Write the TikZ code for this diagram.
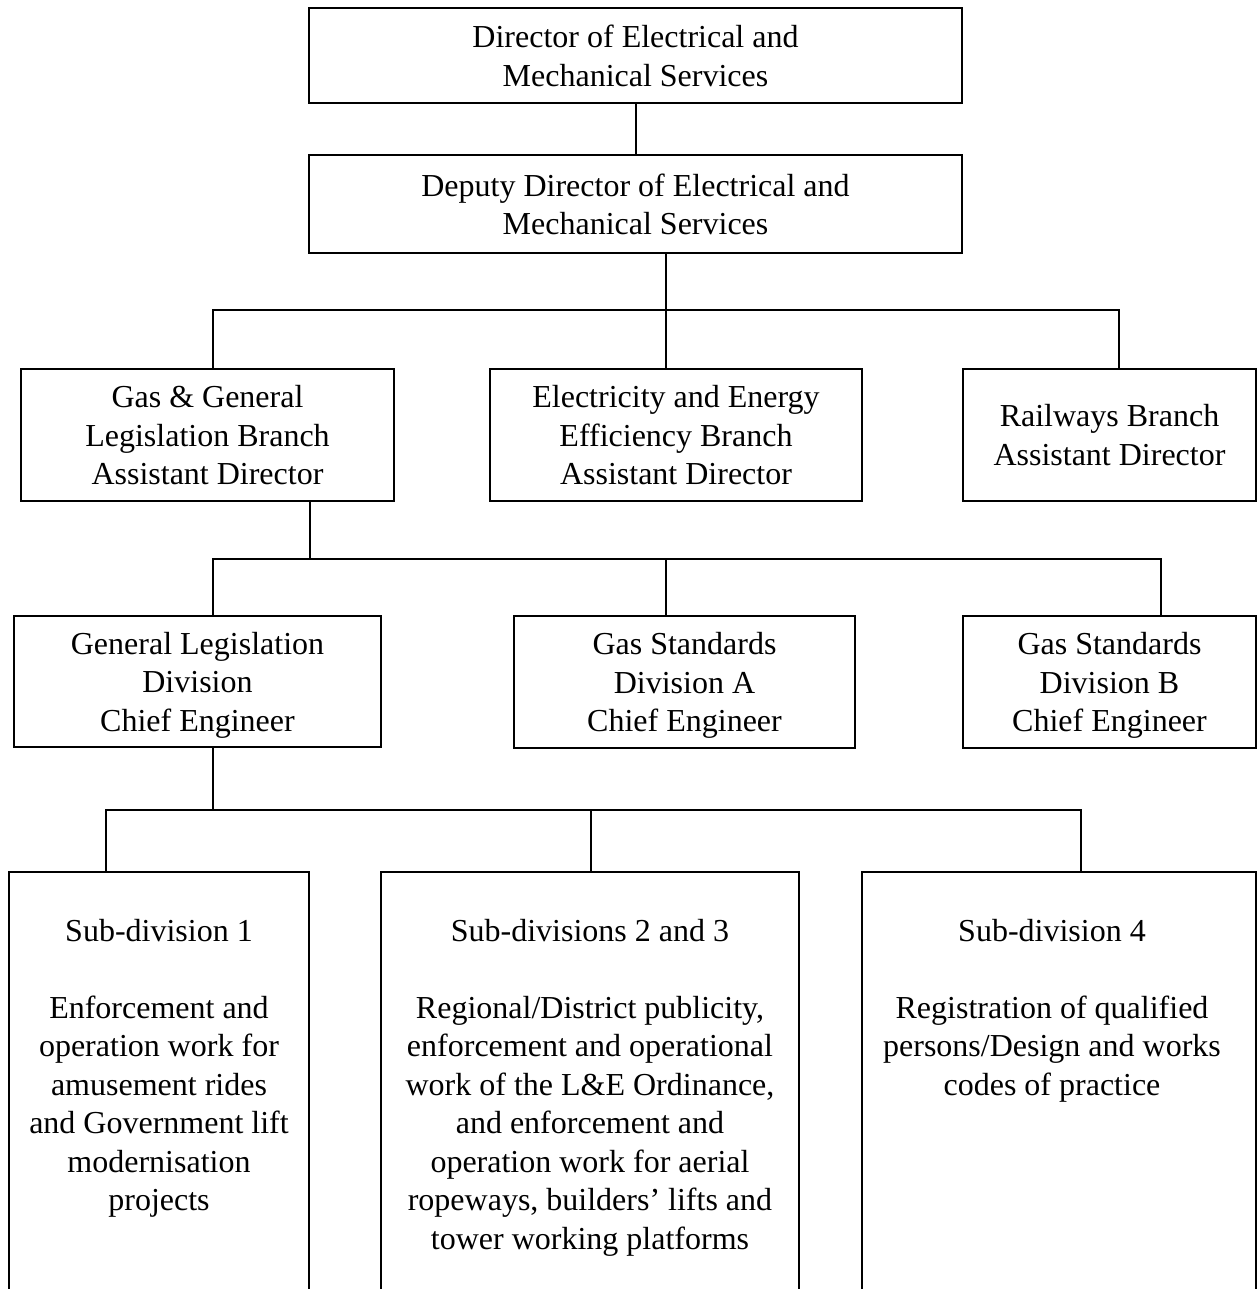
\documentclass[tikz,border=0pt]{standalone}
\usepackage{fontspec}
\setmainfont{Liberation Serif}
\begin{document}
\begin{tikzpicture}[x=1pt,y=-1pt,
  box/.style={draw, line width=2.2pt, inner sep=0pt, align=center, text depth=-6pt, font=\fontsize{32}{38.5}\selectfont},
  openbox/.style={draw, line width=2.2pt, inner sep=0pt},
  txt/.style={inner sep=0pt, align=center, anchor=north, font=\fontsize{32}{38.5}\selectfont},
  link/.style={line width=2pt}]
\useasboundingbox (0,0) rectangle (1258,1289);
\clip (0,0) rectangle (1258,1289);
\fill[white] (0,0) rectangle (1258,1289);

% level 1 and 2
\node[box, minimum width=653, minimum height=95] (dir) at (635.5,55.5) {Director of Electrical and\\Mechanical Services};
\node[box, minimum width=653, minimum height=98] (dep) at (635.5,204) {Deputy Director of Electrical and\\Mechanical Services};

% level 3
\node[box, minimum width=373, minimum height=132] (gg) at (207.5,435) {Gas \& General\\Legislation Branch\\Assistant Director};
\node[box, minimum width=372, minimum height=132] (ee) at (676,435) {Electricity and Energy\\Efficiency Branch\\Assistant Director};
\node[box, minimum width=293, minimum height=132] (rw) at (1109.5,435) {Railways Branch\\Assistant Director};

% level 4
\node[box, minimum width=367, minimum height=131] (gl) at (197.5,681.5) {General Legislation\\Division\\Chief Engineer};
\node[box, minimum width=341, minimum height=132] (gsa) at (684.5,682) {Gas Standards\\Division A\\Chief Engineer};
\node[box, minimum width=293, minimum height=132] (gsb) at (1109.5,682) {Gas Standards\\Division B\\Chief Engineer};

% level 5 (boxes run past the lower edge)
\node[openbox, minimum width=300, minimum height=440] (s1) at (159,1092) {};
\node[openbox, minimum width=418, minimum height=440] (s23) at (590,1092) {};
\node[openbox, minimum width=394, minimum height=440] (s4) at (1059,1092) {};
\node[txt] (s1t) at (159,919) {Sub-division 1\\[38.5pt]Enforcement and\\operation work for\\amusement rides\\and Government lift\\modernisation\\projects};
\node[txt] (s23t) at (590,919) {Sub-divisions 2 and 3\\[38.5pt]Regional/District publicity,\\enforcement and operational\\work of the L\&E Ordinance,\\and enforcement and\\operation work for aerial\\ropeways, builders’ lifts and\\tower working platforms};
\node[txt] (s4t) at (1052,919) {Sub-division 4\\[38.5pt]Registration of qualified\\persons/Design and works\\codes of practice};

% junction coordinates
\coordinate (j0) at (636,0);
\coordinate (j1) at (666,310);
\coordinate (j1l) at (213,310);
\coordinate (j1r) at (1119,310);
\coordinate (j2) at (310,559);
\coordinate (j2l) at (213,559);
\coordinate (j2m) at (666,559);
\coordinate (j2r) at (1161,559);
\coordinate (j3) at (213,810);
\coordinate (j3l) at (106,810);
\coordinate (j3m) at (591,810);
\coordinate (j3r) at (1081,810);

% connectors
\draw[link] (dir.south -| j0) -- (dep.north -| j0);
\draw[link] (dep.south -| j1) -- (ee.north -| j1);
\draw[link] (gg.north -| j1l) -- (j1l) -- (j1r) -- (rw.north -| j1r);

\draw[link] (gg.south -| j2) -- (j2);
\draw[link] (gl.north -| j2l) -- (j2l) -- (j2r) -- (gsb.north -| j2r);
\draw[link] (j2m) -- (gsa.north -| j2m);

\draw[link] (gl.south -| j3) -- (j3);
\draw[link] (s1.north -| j3l) -- (j3l) -- (j3r) -- (s4.north -| j3r);
\draw[link] (j3m) -- (s23.north -| j3m);
\end{tikzpicture}
\end{document}
